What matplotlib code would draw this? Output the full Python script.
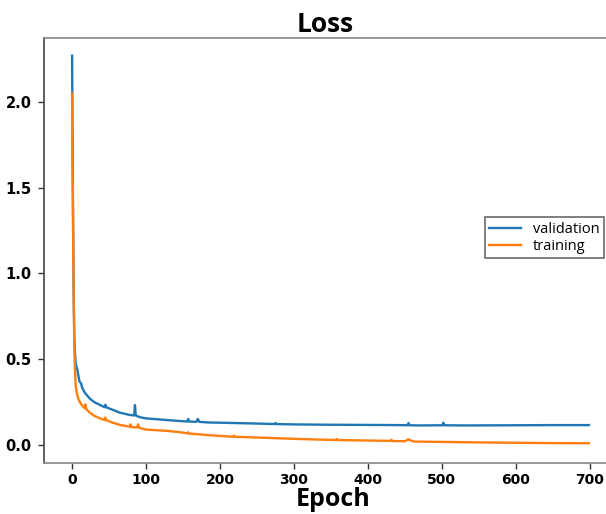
import matplotlib
matplotlib.use("Agg")
import matplotlib.pyplot as plt

# validation loss (epoch, value)
val_epochs = [0, 1, 2, 3, 4, 5, 7, 10, 12, 14, 18, 24, 30, 38, 44, 45, 46, 55, 65, 78, 84, 85, 86, 87, 92, 100,
              115, 127, 145, 156, 157, 158, 168, 170, 172, 186, 200, 230, 260, 274, 275, 276, 300, 350, 400,
              441, 454, 455, 456, 470, 501, 502, 503, 530, 600, 650, 699]
val_loss = [2.27, 1.5, 0.95, 0.62, 0.53, 0.47, 0.44, 0.37, 0.36, 0.33, 0.30, 0.27, 0.25, 0.233, 0.22, 0.235, 0.22,
            0.205, 0.188, 0.175, 0.172, 0.233, 0.175, 0.17, 0.162, 0.155,
            0.15, 0.146, 0.14, 0.137, 0.152, 0.137, 0.135, 0.152, 0.135, 0.131, 0.13, 0.127, 0.124, 0.122, 0.128,
            0.122, 0.12, 0.118, 0.117,
            0.116, 0.115, 0.128, 0.115, 0.114, 0.115, 0.13, 0.115, 0.114, 0.115, 0.116, 0.116]

# training loss (epoch, value)
train_epochs = [0, 1, 2, 3, 4, 5, 7, 9, 12, 15, 17, 18, 19, 24, 30, 38, 44, 45, 46, 55, 65, 78, 79, 80, 84, 88, 89,
                91, 100, 115, 127, 145, 156, 157, 158, 172, 186, 200, 218, 219, 220, 260, 300, 330, 357, 358,
                359, 400, 431, 432, 433, 450, 455, 456, 462, 500, 550, 600, 650, 699]
train_loss = [2.05, 1.45, 0.9, 0.58, 0.42, 0.34, 0.29, 0.262, 0.24, 0.223, 0.215, 0.237, 0.21, 0.188, 0.17, 0.155,
              0.145, 0.16, 0.145, 0.13, 0.117, 0.107, 0.12, 0.105, 0.103, 0.102, 0.12, 0.1, 0.09, 0.086, 0.083,
              0.075, 0.068, 0.074, 0.067, 0.062, 0.057, 0.053, 0.048, 0.055, 0.048, 0.042, 0.036, 0.032, 0.029,
              0.035, 0.029, 0.026, 0.024, 0.03, 0.023, 0.022, 0.033, 0.03, 0.02, 0.018, 0.015, 0.013, 0.011, 0.01]

x_ticks = [0, 100, 200, 300, 400, 500, 600, 700]
y_ticks = [0.0, 0.5, 1.0, 1.5, 2.0]

fig = plt.figure(figsize=(6.06, 5.14), dpi=100)
ax = fig.add_axes([44 / 606, 51 / 514, 562 / 606, 425 / 514])

ax.plot(val_epochs, val_loss, color="#1f77b4", lw=1.7, label="validation")
ax.plot(train_epochs, train_loss, color="#ff7f0e", lw=1.7, label="training")

ax.set_xlim(-38, 722)
ax.set_ylim(-0.105, 2.373)
ax.set_xticks(x_ticks)
ax.set_yticks(y_ticks)
ax.set_xticklabels([str(t) for t in x_ticks], fontsize=10, fontweight="bold", family="DejaVu Sans")
ax.set_yticklabels([f"{t:.1f}" for t in y_ticks], fontsize=10.5, fontweight="bold", family="DejaVu Sans")
ax.tick_params(axis="y", length=4, width=1, color="#333333", pad=5)
ax.tick_params(axis="x", length=4, width=1, color="#333333", pad=3)

ax.spines["right"].set_visible(False)
ax.spines["top"].set_color("#888888")
ax.spines["top"].set_linewidth(1.2)
ax.spines["left"].set_color("#444444")
ax.spines["left"].set_linewidth(1.2)
ax.spines["bottom"].set_color("#888888")
ax.spines["bottom"].set_linewidth(1.2)

ax.set_title("Loss", fontsize=19, fontweight="bold", family="Open Sans", pad=2)
ax.set_xlabel("Epoch", fontsize=18, fontweight="bold", family="Open Sans", labelpad=0, x=0.515)

leg = ax.legend(loc="center right", bbox_to_anchor=(1.0, 0.53), frameon=True, borderaxespad=0.15,
                fancybox=False, edgecolor="#444444", handlelength=2.2, borderpad=0.3,
                labelspacing=0.15, prop={"family": "Open Sans", "size": 10.5})
leg.get_frame().set_linewidth(1.2)

fig.savefig("out.png", dpi=100)
